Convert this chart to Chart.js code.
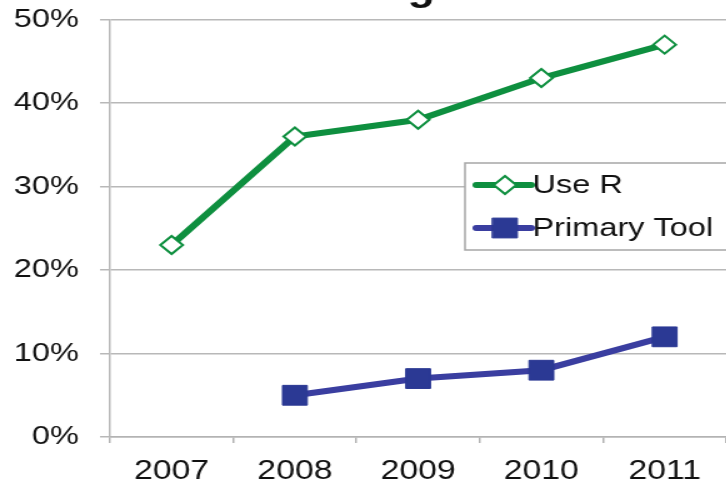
<!DOCTYPE html>
<html>
<head>
<meta charset="utf-8">
<script src="https://cdn.jsdelivr.net/npm/chart.js@4.4.0/dist/chart.umd.min.js"></script>
<style>
  html, body { margin: 0; padding: 0; background: #fff; overflow: hidden; }
  body { width: 726px; height: 483px; position: relative; }
  /* the reference picture is stretched sideways, so the canvas is too */
  #wrap { position: absolute; left: 0; top: -40px; transform: scaleX(1.25); transform-origin: 0 0; }
</style>
</head>
<body>
<div id="wrap"><canvas id="myChart" width="581" height="523"></canvas></div>
<script>
// Data
const years = ['2007', '2008', '2009', '2010', '2011'];
const useR = [23, 36, 38, 43, 47];
const primaryTool = [null, 5, 7, 8, 12];
const yTicks = [0, 10, 20, 30, 40, 50];

const FONT = '"Liberation Sans", Arial, sans-serif';

// Boxed legend drawn inside the plot, like the original
const boxLegend = {
    id: 'boxLegend',
    afterDraw(chart) {
        const ctx = chart.ctx;
        const left = 372, top = 203, width = 260, height = 87;
        ctx.save();
        ctx.fillStyle = '#fff';
        ctx.fillRect(left, top, width, height);
        ctx.strokeStyle = '#a6a6a6';
        ctx.lineWidth = 1.5;
        ctx.strokeRect(left, top, width, height);
        ctx.font = '26px ' + FONT;
        ctx.textBaseline = 'middle';
        chart.data.datasets.forEach((ds, i) => {
            const y = top + 22 + i * 43;
            ctx.strokeStyle = ds.borderColor;
            ctx.lineWidth = 6;
            ctx.lineCap = 'round';
            ctx.beginPath();
            ctx.moveTo(381, y);
            ctx.lineTo(425, y);
            ctx.stroke();
            ctx.fillStyle = ds.pointBackgroundColor;
            ctx.strokeStyle = ds.pointBorderColor;
            ctx.lineWidth = ds.pointBorderWidth;
            ctx.beginPath();
            if (ds.pointStyle === 'rectRot') {
                const r = ds.pointRadius;
                ctx.moveTo(404 - r, y);
                ctx.lineTo(404, y - r);
                ctx.lineTo(404 + r, y);
                ctx.lineTo(404, y + r);
                ctx.closePath();
            } else {
                const s = ds.pointRadius * Math.SQRT1_2;
                ctx.rect(404 - s, y - s, 2 * s, 2 * s);
            }
            ctx.fill();
            ctx.stroke();
            ctx.fillStyle = '#111';
            ctx.fillText(ds.label, 426, y + 1);
        });
        ctx.restore();
    }
};

const ctx = document.getElementById('myChart').getContext('2d');

new Chart(ctx, {
    type: 'line',
    data: {
        labels: years,
        datasets: [{
            label: 'Use R',
            data: useR,
            borderColor: '#0e8f3f',
            borderWidth: 6,
            pointStyle: 'rectRot',
            pointRadius: 9,
            pointBackgroundColor: '#ffffff',
            pointBorderColor: '#0e8f3f',
            pointBorderWidth: 2,
            tension: 0
        }, {
            label: 'Primary Tool',
            data: primaryTool,
            borderColor: '#3a3ea0',
            borderWidth: 6,
            pointStyle: 'rect',
            pointRadius: 14,
            pointBackgroundColor: '#2b3994',
            pointBorderColor: '#2b3994',
            pointBorderWidth: 1,
            spanGaps: false,
            tension: 0
        }]
    },
    options: {
        responsive: false,
        animation: false,
        layout: {
            autoPadding: false,
            padding: { left: 11, right: 0, top: 0, bottom: 0 }
        },
        scales: {
            x: {
                offset: true,
                afterFit: (axis) => {
                    axis.height = 46;
                },
                grid: {
                    offset: true,
                    drawOnChartArea: false,
                    drawTicks: true,
                    tickLength: 6,
                    color: '#b3b3b3',
                    lineWidth: 1.5
                },
                border: { color: '#b3b3b3', width: 1.5 },
                ticks: {
                    color: '#111',
                    padding: 12,
                    font: { family: FONT, size: 27 }
                }
            },
            y: {
                min: 0,
                max: 50,
                afterBuildTicks: (axis) => {
                    axis.ticks = yTicks.map(v => ({ value: v }));
                },
                afterFit: (axis) => {
                    axis.width = 77;
                },
                grid: {
                    color: '#b8b8b8',
                    lineWidth: 1.5,
                    tickLength: 8
                },
                border: { color: '#b8b8b8', width: 1.5 },
                ticks: {
                    color: '#111',
                    padding: 17,
                    font: { family: FONT, size: 26 },
                    callback: (v) => v + '%'
                }
            }
        },
        plugins: {
            legend: { display: false },
            tooltip: { enabled: false },
            title: {
                display: true,
                text: 'R Usage',
                color: '#111',
                padding: { top: 8.5, bottom: 7.9 },
                font: { family: FONT, size: 36, weight: 'bold' }
            }
        }
    },
    plugins: [boxLegend]
});
</script>
</body>
</html>
